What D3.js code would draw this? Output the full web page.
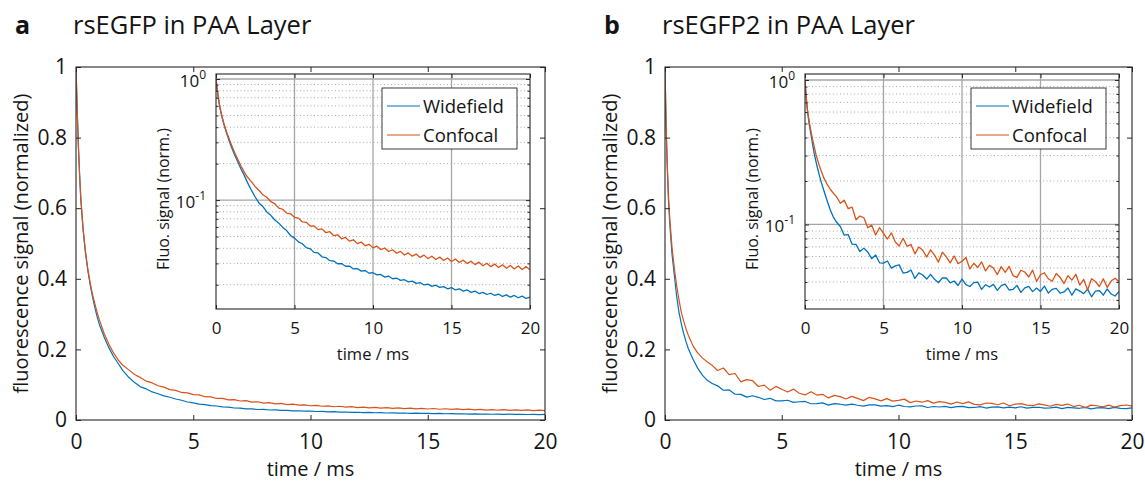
<!DOCTYPE html>
<html>
<head>
<meta charset="utf-8">
<title>rsEGFP / rsEGFP2 in PAA layer</title>
<script src="https://d3js.org/d3.v7.min.js"></script>
<style>
  body { margin: 0; background: #fff; }
  svg text { font-family: "Open Sans", Lato, sans-serif; fill: #141414; }
</style>
</head>
<body>
<div id="chart"></div>
<script>
// time axis in ms, shared by every trace
var time = [0,0.05,0.1,0.15,0.2,0.3,0.4,0.5,0.6,0.7,0.8,0.9,1.0,1.2,1.4,1.6,1.8,2.0,
  2.25,2.5,2.75,3,3.25,3.5,3.75,4,4.25,4.5,4.75,5,
  5.25,5.5,5.75,6,6.25,6.5,6.75,7,7.25,7.5,7.75,8,8.25,8.5,8.75,9,9.25,9.5,9.75,10,
  10.25,10.5,10.75,11,11.25,11.5,11.75,12,12.25,12.5,12.75,13,13.25,13.5,13.75,14,14.25,14.5,14.75,15,
  15.25,15.5,15.75,16,16.25,16.5,16.75,17,17.25,17.5,17.75,18,18.25,18.5,18.75,19,19.25,19.5,19.75,20];

// panel a: rsEGFP
var wideA = [1.0,0.88,0.78,0.70,0.63,0.54,0.475,0.425,0.385,0.35,0.32,0.293,0.27,0.235,0.205,0.18,0.16,0.14,
  0.121,0.106,0.094,0.088,0.0795,0.0745,0.0685,0.0645,0.0595,0.0560,0.0510,0.0485,
  0.0452,0.0436,0.0405,0.0396,0.0370,0.0366,0.0340,0.0335,0.0316,0.0314,0.0298,0.0299,0.0284,0.0285,0.0270,0.0272,0.0259,0.0262,0.0249,0.0251,
  0.0241,0.0243,0.0231,0.0235,0.0224,0.0227,0.0217,0.0220,0.0211,0.0214,0.0205,0.0208,0.0199,0.0202,0.0194,0.0198,0.0190,0.0193,0.0185,0.0189,
  0.0181,0.0185,0.0177,0.0181,0.0173,0.0177,0.0169,0.0173,0.0166,0.0170,0.0163,0.0167,0.0160,0.0165,0.0158,0.0163,0.0156,0.0161,0.0154,0.0158];
var confA = [1.0,0.88,0.78,0.70,0.635,0.545,0.48,0.43,0.39,0.357,0.33,0.305,0.283,0.245,0.215,0.19,0.17,0.155,
  0.142,0.129,0.120,0.110,0.105,0.097,0.093,0.086,0.084,0.078,0.077,0.072,
  0.071,0.066,0.0655,0.0610,0.0612,0.0570,0.0578,0.0538,0.0548,0.0508,0.0517,0.0479,0.0491,0.0458,0.0470,0.0437,0.0450,0.0420,0.0431,0.0403,
  0.0416,0.0390,0.0402,0.0376,0.0389,0.0364,0.0377,0.0352,0.0366,0.0344,0.0358,0.0336,0.0351,0.0329,0.0344,0.0323,0.0338,0.0317,0.0332,0.0311,
  0.0326,0.0305,0.0319,0.0299,0.0313,0.0293,0.0307,0.0287,0.0301,0.0282,0.0296,0.0277,0.0292,0.0273,0.0288,0.0270,0.0285,0.0267,0.0282,0.0266];

// panel b: rsEGFP2 (noisier traces)
var wideB = [1.0,0.82,0.71,0.62,0.56,0.47,0.41,0.35,0.305,0.272,0.245,0.222,0.202,0.172,0.147,0.127,0.113,0.104,
  0.0968,0.0843,0.0851,0.0730,0.0727,0.0649,0.0686,0.0643,0.0580,0.0615,0.0543,0.0540,
  0.0559,0.0499,0.0517,0.0525,0.0461,0.0466,0.0484,0.0423,0.0462,0.0447,0.0419,0.0452,0.0417,0.0395,0.0427,0.0426,0.0394,0.0406,0.0378,0.0419,
  0.0383,0.0372,0.0396,0.0399,0.0355,0.0383,0.0369,0.0385,0.0350,0.0377,0.0387,0.0352,0.0355,0.0379,0.0339,0.0364,0.0373,0.0343,0.0363,0.0344,
  0.0375,0.0335,0.0356,0.0361,0.0335,0.0341,0.0363,0.0324,0.0358,0.0346,0.0332,0.0357,0.0316,0.0346,0.0349,0.0324,0.0358,0.0330,0.0320,0.0343];
var confB = [1.0,0.83,0.72,0.635,0.575,0.49,0.43,0.38,0.34,0.305,0.28,0.258,0.24,0.21,0.19,0.176,0.165,0.156,
  0.1402,0.1473,0.1287,0.1318,0.1079,0.1143,0.1113,0.0949,0.0989,0.0846,0.0952,0.0869,
  0.0793,0.0875,0.0757,0.0710,0.0803,0.0706,0.0728,0.0626,0.0698,0.0663,0.0595,0.0668,0.0614,0.0549,0.0643,0.0597,0.0542,0.0605,0.0536,0.0556,
  0.0591,0.0492,0.0539,0.0504,0.0550,0.0477,0.0521,0.0500,0.0450,0.0511,0.0466,0.0512,0.0443,0.0430,0.0482,0.0469,0.0433,0.0483,0.0404,0.0449,
  0.0463,0.0421,0.0405,0.0458,0.0430,0.0390,0.0443,0.0412,0.0452,0.0381,0.0417,0.0352,0.0421,0.0403,0.0372,0.0421,0.0367,0.0406,0.0425,0.0402];

var panelLetters = ["a", "b"];
var panelTitles = ["rsEGFP in PAA Layer", "rsEGFP2 in PAA Layer"];
var seriesNames = ["Widefield", "Confocal"];
var xTicks = [0, 5, 10, 15, 20];
var yTicks = [0, 0.2, 0.4, 0.6, 0.8, 1];
var yTickLabels = ["0", "0.2", "0.4", "0.6", "0.8", "1"];
var logTicks = [1, 0.1];
var logTickExp = ["0", "-1"];
var insetYMin = [0.0126, 0.026];   // lower limit of each log inset

var blue = "#0072BD", orange = "#D95319", axisColor = "#262626";

var svg = d3.select("#chart").append("svg")
  .attr("width", 1145)
  .attr("height", 483);

var panels = [
  {wide: wideA, conf: confA, mx: [76, 545], ix: [216, 530], lx: 382},
  {wide: wideB, conf: confB, mx: [665, 1132], ix: [805, 1119], lx: 971}
];
var mainY = [420, 67], insetY = [309, 74];

function styleAxis(sel, fs) {
  sel.attr("font-size", fs).attr("font-family", null);
  sel.select(".domain").remove();
  sel.selectAll(".tick line").attr("stroke", axisColor);
  sel.selectAll(".tick text").attr("fill", "#141414");
}

panels.forEach(function(p, pi) {
  var g = svg.append("g");

  // titles
  g.append("text")
    .attr("x", p.mx[0] - 61).attr("y", 34)
    .style("font-size", "25px").style("font-weight", "bold")
    .text(panelLetters[pi]);
  g.append("text")
    .attr("x", p.mx[0] - 3).attr("y", 34)
    .style("font-size", "25.5px")
    .text(panelTitles[pi]);

  // ---- main (linear) axes
  var x = d3.scaleLinear().domain([0, 20]).range(p.mx);
  var y = d3.scaleLinear().domain([0, 1]).range(mainY);

  g.append("clipPath").attr("id", "clipMain" + pi)
    .append("rect")
    .attr("x", p.mx[0]).attr("y", mainY[1])
    .attr("width", p.mx[1] - p.mx[0]).attr("height", mainY[0] - mainY[1]);

  var line = d3.line()
    .x(function(d, i) { return x(time[i]); })
    .y(function(d) { return y(d); });

  [[p.wide, blue], [p.conf, orange]].forEach(function(s) {
    g.append("path")
      .datum(s[0])
      .attr("clip-path", "url(#clipMain" + pi + ")")
      .attr("fill", "none")
      .attr("stroke", s[1])
      .attr("stroke-width", 1.2)
      .attr("stroke-linejoin", "round")
      .attr("d", line);
  });

  g.append("g").attr("transform", "translate(0," + mainY[0] + ")")
    .call(d3.axisBottom(x).tickValues(xTicks).tickSize(-5).tickPadding(14))
    .call(styleAxis, 21);
  g.append("g").attr("transform", "translate(0," + mainY[1] + ")")
    .call(d3.axisTop(x).tickValues(xTicks).tickSize(-5).tickFormat(""))
    .call(styleAxis, 21);
  g.append("g").attr("transform", "translate(" + p.mx[0] + ",0)")
    .call(d3.axisLeft(y).tickValues(yTicks).tickSize(-5).tickPadding(9)
      .tickFormat(function(d, i) { return yTickLabels[i]; }))
    .call(styleAxis, 21);
  g.append("g").attr("transform", "translate(" + p.mx[1] + ",0)")
    .call(d3.axisRight(y).tickValues(yTicks).tickSize(-5).tickFormat(""))
    .call(styleAxis, 21);

  g.append("rect")
    .attr("x", p.mx[0]).attr("y", mainY[1])
    .attr("width", p.mx[1] - p.mx[0]).attr("height", mainY[0] - mainY[1])
    .attr("fill", "none").attr("stroke", axisColor).attr("stroke-width", 1.1);

  g.append("text")
    .attr("x", (p.mx[0] + p.mx[1]) / 2).attr("y", 476)
    .attr("text-anchor", "middle")
    .style("font-size", "20px")
    .text("time / ms");
  g.append("text")
    .attr("transform", "translate(" + (p.mx[0] - 48) + "," + ((mainY[0] + mainY[1]) / 2) + ") rotate(-90)")
    .attr("text-anchor", "middle")
    .style("font-size", "20px")
    .text("fluorescence signal (normalized)");

  // ---- inset (log) axes
  var xi = d3.scaleLinear().domain([0, 20]).range(p.ix);
  var yi = d3.scaleLog().domain([insetYMin[pi], 1.1]).range(insetY);
  var iw = p.ix[1] - p.ix[0], ih = insetY[0] - insetY[1];

  var ins = g.append("g");
  ins.append("rect")
    .attr("x", p.ix[0]).attr("y", insetY[1]).attr("width", iw).attr("height", ih)
    .attr("fill", "#fff");

  var minor = yi.ticks().filter(function(v) { return logTicks.indexOf(v) < 0; });

  // grid
  ins.append("g").selectAll("line")
    .data(minor).enter().append("line")
    .attr("x1", p.ix[0]).attr("x2", p.ix[1])
    .attr("y1", function(d) { return yi(d); }).attr("y2", function(d) { return yi(d); })
    .attr("stroke", "#a8a8a8").attr("stroke-width", 1).attr("stroke-dasharray", "1,2.5");
  ins.append("g").selectAll("line")
    .data(logTicks).enter().append("line")
    .attr("x1", p.ix[0]).attr("x2", p.ix[1])
    .attr("y1", function(d) { return yi(d); }).attr("y2", function(d) { return yi(d); })
    .attr("stroke", "#a6a6a6").attr("stroke-width", 1.3);
  ins.append("g").selectAll("line")
    .data(xTicks.slice(1, -1)).enter().append("line")
    .attr("x1", function(d) { return xi(d); }).attr("x2", function(d) { return xi(d); })
    .attr("y1", insetY[1]).attr("y2", insetY[0])
    .attr("stroke", "#a6a6a6").attr("stroke-width", 1.3);

  ins.append("clipPath").attr("id", "clipInset" + pi)
    .append("rect")
    .attr("x", p.ix[0]).attr("y", insetY[1]).attr("width", iw).attr("height", ih);

  var lineLog = d3.line()
    .x(function(d, i) { return xi(time[i]); })
    .y(function(d) { return yi(d); });

  [[p.wide, blue], [p.conf, orange]].forEach(function(s) {
    ins.append("path")
      .datum(s[0])
      .attr("clip-path", "url(#clipInset" + pi + ")")
      .attr("fill", "none")
      .attr("stroke", s[1])
      .attr("stroke-width", 1.3)
      .attr("stroke-linejoin", "round")
      .attr("d", lineLog);
  });

  ins.append("g").attr("transform", "translate(0," + insetY[0] + ")")
    .call(d3.axisBottom(xi).tickValues(xTicks).tickSize(-4).tickPadding(13))
    .call(styleAxis, 17);
  ins.append("g").attr("transform", "translate(0," + insetY[1] + ")")
    .call(d3.axisTop(xi).tickValues(xTicks).tickSize(-4).tickFormat(""))
    .call(styleAxis, 17);
  [[p.ix[0], d3.axisLeft], [p.ix[1], d3.axisRight]].forEach(function(a) {
    ins.append("g").attr("transform", "translate(" + a[0] + ",0)")
      .call(a[1](yi).tickValues(logTicks).tickSize(-4).tickFormat(""))
      .call(styleAxis, 17);
    ins.append("g").attr("transform", "translate(" + a[0] + ",0)")
      .call(a[1](yi).tickValues(minor).tickSize(-2.5).tickFormat(""))
      .call(styleAxis, 17);
  });

  // log tick labels 10^n
  var lab = ins.append("g").selectAll("text")
    .data(logTicks).enter().append("text")
    .attr("x", p.ix[0] - 10)
    .attr("y", function(d) { return yi(d) + 8; })
    .attr("text-anchor", "end")
    .style("font-size", "17px");
  lab.append("tspan").text("10");
  lab.append("tspan")
    .attr("dy", -8)
    .style("font-size", "12px")
    .text(function(d, i) { return logTickExp[i]; });

  ins.append("rect")
    .attr("x", p.ix[0]).attr("y", insetY[1]).attr("width", iw).attr("height", ih)
    .attr("fill", "none").attr("stroke", axisColor).attr("stroke-width", 1.1);

  ins.append("text")
    .attr("x", (p.ix[0] + p.ix[1]) / 2).attr("y", 360)
    .attr("text-anchor", "middle")
    .style("font-size", "16.5px")
    .text("time / ms");
  ins.append("text")
    .attr("transform", "translate(" + (p.ix[0] - 47) + ",199) rotate(-90)")
    .attr("text-anchor", "middle")
    .style("font-size", "16px")
    .text("Fluo. signal (norm.)");

  // legend
  var leg = ins.append("g").attr("transform", "translate(" + p.lx + ",88)");
  leg.append("rect")
    .attr("width", 135).attr("height", 61)
    .attr("fill", "#fff").attr("stroke", axisColor).attr("stroke-width", 0.9);
  [blue, orange].forEach(function(c, k) {
    var yy = 18 + k * 29;
    leg.append("line")
      .attr("x1", 5).attr("x2", 38).attr("y1", yy).attr("y2", yy)
      .attr("stroke", c).attr("stroke-width", 1.2);
    leg.append("text")
      .attr("x", 41).attr("y", yy + 6.5)
      .style("font-size", "18.5px")
      .text(seriesNames[k]);
  });
});
</script>
</body>
</html>
